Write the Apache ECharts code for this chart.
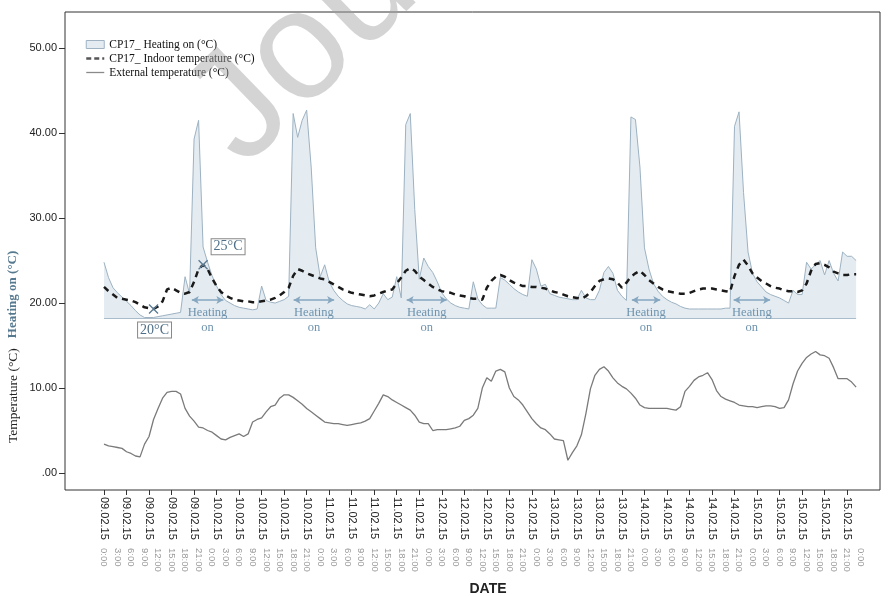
<!DOCTYPE html>
<html>
<head>
<meta charset="utf-8">
<script src="https://cdn.jsdelivr.net/npm/echarts@6/dist/echarts.min.js"></script>
<style>html,body{margin:0;padding:0;background:#fff}#chart{width:893px;height:596px}</style>
</head>
<body>
<div id="chart"></div>
<script>
// Hourly readings, 09.02.15 0:00 -> 15.02.15 23:00 (index = hours since 09.02.15 0:00)
const heatingOn = [
24.8,23.0,21.8,21.2,20.7,20.2,19.7,19.1,18.6,18.3,
18.3,18.3,18.4,18.5,18.6,18.7,18.8,18.9,23.1,21.1,
39.3,41.5,26.6,24.8,23.2,22.0,21.0,20.3,20.0,19.7,
19.5,19.4,19.3,19.2,19.3,22.0,20.3,20.1,20.0,20.2,
20.4,20.8,42.3,39.5,41.5,42.7,36.0,26.5,23.1,24.5,
22.5,21.5,20.8,20.3,19.9,19.7,19.6,19.5,19.3,19.8,
19.3,20.0,21.1,20.4,20.7,23.1,20.6,41.0,42.3,31.0,
22.8,25.3,24.3,23.6,22.5,21.2,20.5,20.0,19.7,19.5,
19.4,19.3,22.5,20.5,19.8,19.4,19.4,19.4,23.0,22.7,
22.2,21.7,21.3,21.0,20.8,25.1,24.0,22.0,22.2,21.1,
20.9,20.7,20.6,20.5,20.4,20.4,21.5,20.6,20.4,20.4,
21.5,23.6,24.3,23.5,21.5,20.8,20.3,41.9,41.6,36.0,
26.5,24.0,22.3,21.4,20.8,20.4,20.1,19.9,19.6,19.4,
19.3,19.3,19.3,19.3,19.3,19.3,19.3,19.3,19.4,19.4,
40.8,42.5,33.0,26.0,23.5,22.5,21.9,21.3,21.0,20.8,
20.6,20.3,20.0,21.5,21.0,21.0,24.8,24.0,24.5,25.0,
23.3,25.0,23.5,22.6,26.0,25.5,25.5,25.0
];
const indoorTemp = [
21.9,21.4,21.0,20.6,20.5,20.4,20.3,20.1,19.8,19.5,
19.4,19.3,19.6,20.2,21.6,21.8,21.5,21.2,21.1,21.3,
22.5,24.0,24.5,24.0,22.9,22.0,21.3,20.9,20.6,20.4,
20.3,20.2,20.2,20.1,20.1,20.2,20.3,20.4,20.6,20.9,
21.3,21.8,23.2,24.0,23.8,23.5,23.3,23.1,22.9,22.8,
22.5,22.2,21.9,21.6,21.4,21.2,21.1,21.0,20.9,20.8,
20.9,21.1,21.3,21.5,21.6,22.3,23.0,23.8,24.1,23.8,
23.1,22.7,22.3,21.9,21.6,21.4,21.3,21.2,21.0,20.9,
20.8,20.6,20.5,20.5,20.4,21.8,22.6,23.1,23.3,23.1,
22.7,22.4,22.2,22.0,22.0,21.9,21.9,21.8,21.7,21.5,
21.3,21.2,21.0,20.8,20.7,20.6,20.5,20.8,21.3,22.0,
22.6,22.8,22.9,22.8,22.4,21.8,22.4,23.1,23.5,23.8,
23.3,22.7,22.3,21.9,21.6,21.4,21.3,21.2,21.1,21.1,
21.2,21.4,21.6,21.7,21.7,21.7,21.6,21.5,21.4,21.3,
23.2,24.5,25.1,24.4,23.5,23.0,22.6,22.3,22.0,21.8,
21.7,21.5,21.4,21.4,21.3,21.5,22.3,23.8,24.6,24.7,
24.5,24.2,23.7,23.5,23.3,23.3,23.4,23.4
];
const externalTemp = [
3.4,3.2,3.1,3.0,2.9,2.5,2.3,2.0,1.9,3.4,
4.3,6.3,7.6,8.8,9.5,9.6,9.6,9.3,7.6,6.7,
6.1,5.4,5.3,5.0,4.8,4.4,4.0,3.9,4.2,4.4,
4.6,4.3,4.6,6.0,6.3,6.5,7.2,7.8,8.0,8.8,
9.2,9.2,8.9,8.5,8.1,7.6,7.2,6.8,6.4,6.0,
5.9,5.8,5.8,5.7,5.6,5.7,5.8,5.9,6.1,6.4,
7.3,8.2,9.2,9.0,8.6,8.3,8.0,7.7,7.4,6.8,
6.0,5.8,5.8,5.0,5.1,5.1,5.1,5.2,5.3,5.5,
6.2,6.4,6.8,7.6,10.0,11.2,10.8,12.0,12.2,11.9,
10.0,9.0,8.6,8.0,7.2,6.4,5.8,5.3,5.1,4.6,
4.0,3.9,3.8,1.5,2.4,3.2,4.5,7.0,9.9,11.5,
12.2,12.5,12.0,11.2,10.6,10.2,9.9,9.4,8.8,8.0,
7.7,7.6,7.6,7.6,7.6,7.6,7.5,7.4,7.8,9.6,
10.2,10.9,11.3,11.5,11.8,11.0,9.7,9.0,8.7,8.5,
8.3,8.0,7.9,7.8,7.8,7.7,7.8,7.9,7.9,7.8,
7.6,7.7,8.6,10.5,12.0,12.9,13.6,14.0,14.3,13.9,
13.8,13.5,12.4,11.1,11.1,11.1,10.7,10.1
];
const seriesNames = ['CP17_ Heating on (°C)', 'CP17_ Indoor temperature (°C)', 'External temperature (°C)'];
const dayLabels = ['09.02.15','10.02.15','11.02.15','12.02.15','13.02.15','14.02.15','15.02.15','16.02.15'];
const dateTicks = [0,5,10,15,20,25,30,35,40,45,50,55,60,65,70,75,80,85,90,95,100,105,110,115,120,125,130,135,140,145,150,155,160,165];
const timeTicks = [0,3,6,9,12,15,18,21,24,27,30,33,36,39,42,45,48,51,54,57,60,63,66,69,72,75,78,81,84,87,90,93,96,99,102,105,108,111,114,117,120,123,126,129,132,135,138,141,144,147,150,153,156,159,162,165,168];
const yTicks = [0,10,20,30,40,50];
const heatingBase = 18.2;
// "Heating on" periods (hours) and the level of their arrows
const heatingOnStart = [19.5, 42.1, 67.2, 117.2, 139.8];
const heatingOnEnd = [26.5, 51.1, 76.1, 123.5, 147.9];
const heatingArrowLevel = 20.35;
// annotated indoor readings
const markedHours = [11, 22];
const markedLabels = ['20°C', '25°C'];

const toPairs = arr => arr.map((v, i) => [i, v]);
const serif = '"Liberation Serif", "Times New Roman", serif';
const sans = '"Liberation Sans", Arial, sans-serif';
const annotColor = '#6f93ad';

const chart = echarts.init(document.getElementById('chart'), null, {renderer: 'canvas'});

const arrowLines = heatingOnStart.map((s, i) => [
  {coord: [s, heatingArrowLevel]},
  {coord: [heatingOnEnd[i], heatingArrowLevel]}
]);

const option = {
  animation: false,
  backgroundColor: '#ffffff',
  grid: {left: 65, right: 13, top: 12, bottom: 106, show: true, borderColor: '#333', borderWidth: 1, backgroundColor: 'transparent'},
  legend: {
    left: 80, top: 33, orient: 'vertical', itemWidth: 18, itemHeight: 8, itemGap: 1,
    textStyle: {fontFamily: serif, fontSize: 11.5, color: '#111', lineHeight: 13},
    data: [
      {name: seriesNames[0], icon: 'rect', itemStyle: {color: '#e4ecf2', borderColor: '#9fb3c3', borderWidth: 1}},
      {name: seriesNames[1], itemStyle: {opacity: 0}, lineStyle: {color: '#555', width: 2.5, type: [5, 3]}},
      {name: seriesNames[2], itemStyle: {opacity: 0}, lineStyle: {color: '#8a8a8a', width: 1.3}}
    ]
  },
  xAxis: [
    {
      type: 'value', min: -8.66, max: 172.3, splitLine: {show: false},
      axisLine: {show: false, onZero: false},
      axisTick: {show: true, customValues: dateTicks, length: 5, lineStyle: {color: '#333'}},
      axisLabel: {customValues: dateTicks, rotate: -90, margin: 7, fontFamily: sans, fontSize: 11, color: '#222',
        formatter: v => dayLabels[Math.floor(v / 24)]}
    },
    {
      type: 'value', min: -8.66, max: 172.3, position: 'bottom', splitLine: {show: false},
      axisLine: {show: false, onZero: false}, axisTick: {show: false},
      axisLabel: {customValues: timeTicks, rotate: -90, margin: 58, fontFamily: sans, fontSize: 9.5, color: '#9a9a9a',
        formatter: v => (v % 24) + ':00'}
    }
  ],
  yAxis: {
    type: 'value', min: -2, max: 54.25, splitLine: {show: false},
    axisLine: {show: false, onZero: false},
    axisTick: {show: true, customValues: yTicks, length: 6, lineStyle: {color: '#333'}},
    axisLabel: {customValues: yTicks, margin: 8, fontFamily: sans, fontSize: 11, color: '#222',
      formatter: v => v === 0 ? '.00' : v.toFixed(2)}
  },
  series: [
    {
      name: seriesNames[0], type: 'line', data: toPairs(heatingOn), symbol: 'none', z: 1,
      lineStyle: {color: '#9db2c2', width: 1},
      itemStyle: {color: '#9db2c2'},
      areaStyle: {color: '#e4ecf2', opacity: 1, origin: heatingBase},
      markLine: {
        silent: true, symbol: ['none', 'none'], animation: false,
        lineStyle: {color: '#a8bccb', width: 1, type: 'solid'}, label: {show: false},
        data: [[{coord: [0, heatingBase]}, {coord: [heatingOn.length - 1, heatingBase]}]]
      }
    },
    {
      name: seriesNames[1], type: 'line', data: toPairs(indoorTemp), symbol: 'none', z: 3,
      lineStyle: {color: '#1a1a1a', width: 2.5, type: [6, 5]},
      itemStyle: {color: '#1a1a1a'},
      markLine: {
        silent: true, symbol: ['arrow', 'arrow'], symbolSize: [6, 7], animation: false,
        lineStyle: {color: '#86a7bf', width: 1.5, type: 'solid'},
        label: {show: true, position: 'insideMiddleBottom', formatter: 'Heating\non', distance: 5,
          fontFamily: serif, fontSize: 12.5, lineHeight: 15, color: annotColor},
        data: arrowLines
      },
      markPoint: {
        silent: true, animation: false,
        symbol: 'path://M0,0L10,10M10,0L0,10', symbolSize: 9,
        itemStyle: {color: 'none', borderColor: '#5b7a92', borderWidth: 1.3},
        data: markedHours.map((h, i) => ({
          coord: [h, indoorTemp[h]],
          label: {show: true, formatter: markedLabels[i], fontFamily: serif, fontSize: 14, color: '#4f6f88',
            backgroundColor: '#fff', borderColor: '#888', borderWidth: 1, padding: [1, 2, 0, 2],
            offset: i === 0 ? [1, 21] : [25, -18]}
        }))
      }
    },
    {
      name: seriesNames[2], type: 'line', data: toPairs(externalTemp), symbol: 'none', z: 2,
      lineStyle: {color: '#7a7a7a', width: 1.3},
      itemStyle: {color: '#7a7a7a'}
    }
  ],
  graphic: [
    {
      type: 'text', x: 13, y: 443, rotation: Math.PI / 2,
      style: {
        text: '{a|Temperature (°C)}   {b|Heating on (°C)}',
        verticalAlign: 'middle', align: 'left',
        rich: {
          a: {fontFamily: serif, fontSize: 13.5, fill: '#222', color: '#222'},
          b: {fontFamily: serif, fontSize: 13, fontWeight: 'bold', fill: '#56798f', color: '#56798f'}
        }
      }
    },
    {
      type: 'text', x: 488, y: 589,
      style: {text: 'DATE', align: 'center', verticalAlign: 'middle', font: 'bold 14px "Liberation Sans", Arial, sans-serif', fill: '#222'}
    },
    {
      type: 'text', x: 268, y: 194, rotation: 0.77, z: 100, silent: true,
      style: {text: 'Journal Pre-proof', align: 'left', verticalAlign: 'bottom', font: '155px "Liberation Sans", Arial, sans-serif', fill: 'rgba(160,160,160,0.45)'}
    }
  ]
};
chart.setOption(option);
</script>
</body>
</html>
